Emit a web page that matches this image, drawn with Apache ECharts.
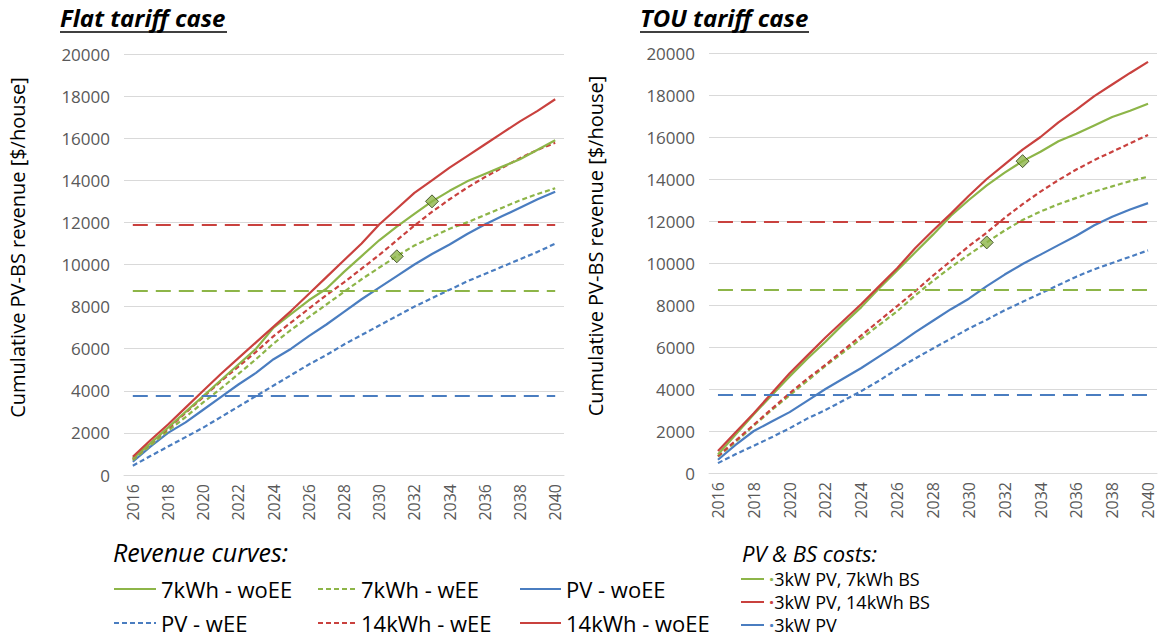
<!DOCTYPE html>
<html>
<head>
<meta charset="utf-8">
<script src="https://cdn.jsdelivr.net/npm/echarts@6/dist/echarts.min.js"></script>
<style>
  html, body { margin: 0; padding: 0; background: #fff; }
  #chart { width: 1158px; height: 638px; }
</style>
</head>
<body>
<div id="chart"></div>
<script>
// categories
const years = ['2016', '2017', '2018', '2019', '2020', '2021', '2022', '2023', '2024', '2025', '2026', '2027', '2028',
  '2029', '2030', '2031', '2032', '2033', '2034', '2035', '2036', '2037', '2038', '2039', '2040'];

// flat tariff case, cumulative revenue ($/house)
const flat7woEE = [780, 1500, 2250, 3000, 3750, 4500, 5250, 6000, 7000, 7650, 8300, 8850, 9650, 10400, 11150, 11800, 12400, 13000, 13500, 13950, 14300, 14650, 15000, 15450, 15900];
const flat7wEE = [700, 1400, 2100, 2750, 3450, 4100, 4800, 5500, 6250, 6900, 7500, 8100, 8700, 9300, 9850, 10400, 10900, 11300, 11700, 12000, 12350, 12700, 13050, 13350, 13620];
const flatPVwoEE = [630, 1350, 2000, 2500, 3100, 3700, 4300, 4850, 5500, 6000, 6600, 7150, 7750, 8350, 8900, 9450, 10000, 10500, 10950, 11450, 11900, 12300, 12700, 13100, 13460];
const flatPVwEE = [440, 900, 1350, 1800, 2250, 2750, 3250, 3750, 4250, 4750, 5250, 5700, 6200, 6650, 7100, 7550, 8000, 8400, 8800, 9200, 9550, 9900, 10250, 10600, 10990];
const flat14wEE = [760, 1500, 2200, 2950, 3700, 4450, 5150, 5850, 6600, 7250, 7900, 8550, 9150, 9800, 10450, 11150, 11850, 12500, 13100, 13650, 14150, 14600, 15050, 15450, 15780];
const flat14woEE = [870, 1650, 2400, 3200, 4000, 4800, 5550, 6300, 7050, 7800, 8600, 9400, 10200, 11000, 11900, 12650, 13400, 14000, 14600, 15150, 15700, 16250, 16800, 17300, 17850];

// TOU tariff case
const tou7woEE = [880, 1850, 2800, 3700, 4600, 5450, 6250, 7100, 7900, 8800, 9650, 10500, 11350, 12250, 13000, 13700, 14300, 14850, 15300, 15800, 16150, 16550, 16950, 17250, 17580];
const tou7wEE = [780, 1500, 2250, 3000, 3700, 4400, 5100, 5750, 6400, 7050, 7700, 8450, 9150, 9800, 10400, 10980, 11550, 12050, 12450, 12800, 13100, 13400, 13650, 13900, 14110];
const touPVwoEE = [630, 1350, 2000, 2450, 2900, 3450, 4000, 4500, 5000, 5550, 6100, 6700, 7250, 7800, 8300, 8900, 9450, 9950, 10400, 10850, 11300, 11800, 12200, 12550, 12850];
const touPVwEE = [470, 900, 1300, 1700, 2130, 2600, 3000, 3450, 3900, 4400, 4950, 5450, 5930, 6400, 6880, 7300, 7750, 8150, 8550, 8950, 9350, 9700, 10000, 10300, 10600];
const tou14wEE = [800, 1550, 2300, 3050, 3800, 4500, 5150, 5850, 6550, 7250, 7950, 8650, 9400, 10100, 10800, 11450, 12150, 12800, 13400, 13950, 14450, 14900, 15300, 15700, 16100];
const tou14woEE = [1050, 1950, 2850, 3800, 4750, 5600, 6450, 7250, 8050, 8900, 9750, 10700, 11550, 12350, 13200, 14000, 14700, 15400, 16000, 16700, 17300, 17950, 18500, 19050, 19580];

// PV & BS costs: 7kWh BS, 14kWh BS, PV only
const costNames = ['3kW PV, 7kWh BS', '3kW PV, 14kWh BS', '3kW PV'];
const flatCosts = [8750, 11900, 3750];
const touCosts = [8750, 11950, 3750];

// diamond markers
const flatMarkers = [['2031', 10390], ['2033', 13000]];
const touMarkers = [['2031', 10980], ['2033', 14850]];

const GREEN = '#8db548', RED = '#c9413e', BLUE = '#4a7dc0';
const FONT = 'Open Sans';
const costColors = [GREEN, RED, BLUE];

function revenueSeries(i, g, gd, b, bd, rd, r) {
  const spec = [
    ['PV - wEE', bd, BLUE, [5, 3]],
    ['PV - woEE', b, BLUE, 'solid'],
    ['7kWh - wEE', gd, GREEN, [5, 3]],
    ['14kWh - wEE', rd, RED, [5, 3]],
    ['7kWh - woEE', g, GREEN, 'solid'],
    ['14kWh - woEE', r, RED, 'solid']
  ];
  return spec.map(([name, data, color, type]) => ({
    name, type: 'line', xAxisIndex: i, yAxisIndex: i, data,
    symbol: 'none', color, z: 3,
    lineStyle: { color, width: 2.2, type }
  }));
}

function costSeries(i, costs) {
  return costNames.map((name, k) => ({
    name, type: 'line', xAxisIndex: i, yAxisIndex: i, data: [],
    symbol: 'none', color: costColors[k],
    lineStyle: { color: costColors[k], width: 3 },
    markLine: {
      silent: true, symbol: 'none', label: { show: false },
      lineStyle: { color: costColors[k], width: 2, type: [15, 8] },
      data: [[{ coord: [years[0], costs[k]] }, { coord: [years[years.length - 1], costs[k]] }]]
    }
  }));
}

function markerSeries(i, pts) {
  return {
    type: 'scatter', xAxisIndex: i, yAxisIndex: i, data: pts, z: 5,
    symbol: 'diamond', symbolSize: 13,
    itemStyle: { color: GREEN, borderColor: '#2f3d18', borderWidth: 1 }
  };
}

// one legend per entry so the columns line up like the original
function legendItem(name, left, top, w, textStyle, formatter) {
  const item = {
    left, top, itemWidth: w, itemHeight: 14, selectedMode: false, padding: 0,
    itemStyle: { opacity: 0 },
    data: [name], textStyle
  };
  if (formatter) item.formatter = formatter;
  return item;
}

const chart = echarts.init(document.getElementById('chart'), null, { renderer: 'svg' });

const axisLabelStyle = { color: '#595959', fontFamily: FONT };
const legendText = { fontFamily: FONT, fontSize: 22, lineHeight: 22, color: '#000' };
const dot = c => ({ color: c, fontSize: 18, lineHeight: 18, fontWeight: 'bold' });
const costText = {
  fontFamily: FONT, fontSize: 18, lineHeight: 18, color: '#000',
  rich: {
    d0: dot(GREEN), d1: dot(RED), d2: dot(BLUE),
    t: { fontFamily: FONT, fontSize: 18, lineHeight: 18, color: '#000' }
  }
};
const costFmt = name => '{d' + costNames.indexOf(name) + '|·}{t|' + name + '}';
const headStyle = { fontFamily: FONT, fontSize: 24, fontStyle: 'italic', fontWeight: 'bold', color: '#000' };

const option = {
  animation: false,
  backgroundColor: '#fff',
  title: [
    { text: 'Flat tariff case', left: 60, top: 5, padding: 0, textStyle: headStyle },
    { text: 'TOU tariff case', left: 640, top: 5, padding: 0, textStyle: headStyle },
    { text: 'Revenue curves:', left: 113, top: 539, padding: 0,
      textStyle: { fontFamily: FONT, fontSize: 25, fontStyle: 'italic', fontWeight: 'normal', color: '#000' } },
    { text: 'PV & BS costs:', left: 742, top: 541, padding: 0,
      textStyle: { fontFamily: FONT, fontSize: 22, lineHeight: 24, fontStyle: 'italic', fontWeight: 'normal', color: '#000' } }
  ],
  graphic: [
    { type: 'line', shape: { x1: 60, y1: 32, x2: 227, y2: 32 }, style: { stroke: '#000', lineWidth: 1.5 } },
    { type: 'line', shape: { x1: 640, y1: 32, x2: 809, y2: 32 }, style: { stroke: '#000', lineWidth: 1.5 } }
  ],
  legend: [
    legendItem('7kWh - woEE', 113, 578, 42, legendText),
    legendItem('PV - wEE', 113, 612, 42, legendText),
    legendItem('7kWh - wEE', 317, 578, 38, legendText),
    legendItem('14kWh - wEE', 317, 612, 38, legendText),
    legendItem('PV - woEE', 519, 578, 41, legendText),
    legendItem('14kWh - woEE', 519, 612, 41, legendText),
    legendItem(costNames[0], 740, 570, 23, costText, costFmt),
    legendItem(costNames[1], 740, 593, 23, costText, costFmt),
    legendItem(costNames[2], 740, 616, 23, costText, costFmt)
  ],
  grid: [
    { left: 124, top: 54, width: 440, height: 421 },
    { left: 709, top: 53, width: 448, height: 420 }
  ],
  xAxis: [0, 1].map(i => ({
    type: 'category', gridIndex: i, data: years, boundaryGap: true,
    axisTick: { show: false },
    axisLine: { lineStyle: { color: '#d9d9d9' } },
    axisLabel: Object.assign({ interval: 1, rotate: 90, fontSize: 16, margin: 9 }, axisLabelStyle)
  })),
  yAxis: [[0, 97], [1, 104]].map(([i, gap]) => ({
    type: 'value', gridIndex: i, min: 0, max: 20000, interval: 2000,
    name: 'Cumulative PV-BS revenue [$/house]', nameLocation: 'middle', nameGap: gap,
    nameTextStyle: { fontFamily: FONT, fontSize: 20, color: '#000', padding: [0, 0, 0, 34] },
    axisLine: { show: false }, axisTick: { show: false },
    splitLine: { lineStyle: { color: '#d9d9d9' } },
    axisLabel: Object.assign({ fontSize: 17, margin: 14, formatter: v => String(v) }, axisLabelStyle)
  })),
  series: [
    ...costSeries(0, flatCosts),
    ...revenueSeries(0, flat7woEE, flat7wEE, flatPVwoEE, flatPVwEE, flat14wEE, flat14woEE),
    markerSeries(0, flatMarkers),
    ...costSeries(1, touCosts),
    ...revenueSeries(1, tou7woEE, tou7wEE, touPVwoEE, touPVwEE, tou14wEE, tou14woEE),
    markerSeries(1, touMarkers)
  ]
};

chart.setOption(option);
</script>
</body>
</html>
